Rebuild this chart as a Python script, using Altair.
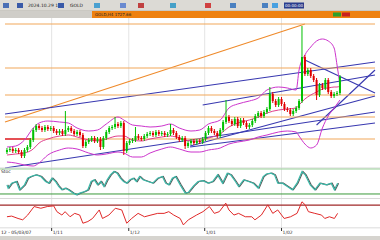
import altair as alt
import pandas as pd

# ---------------- data ----------------
# closing prices (arbitrary price units), one per candle
close = [20, 21, 19, 20, 18, 14, 20, 23, 30, 40,
         44, 42, 40, 43, 41, 42, 39, 37, 39, 36,
         40, 42, 39, 36, 38, 35, 24, 28, 30, 32,
         29, 31, 23, 32, 38, 42, 43, 46, 44, 47,
         19, 27, 29, 30, 34, 32, 31, 34, 36, 37,
         35, 38, 36, 37, 35, 36, 40, 37, 33, 30,
         32, 24, 27, 29, 27, 29, 28, 31, 37, 42,
         39, 37, 34, 40, 48, 53, 49, 46, 51, 44,
         50, 47, 43, 45, 49, 54, 57, 54, 58, 61,
         76, 69, 65, 71, 66, 61, 60, 56, 59, 62,
         69, 113, 96, 100, 94, 90, 75, 85, 82, 90,
         78, 74, 76, 77, 93]
first_open = 18
spike_high = {20: 59, 37: 53, 44: 43, 56: 46, 75: 70, 90: 83, 101: 144}
spike_low = {32: 20, 40: 15, 61: 21, 106: 70}

# Bollinger-style envelope
band_i = [0, 3, 6, 9, 11, 14, 18, 21, 24, 28, 31, 34, 38, 40, 43, 46, 49, 53, 56, 59,
          63, 66, 69, 73, 76, 79, 83, 86, 89, 93, 96, 99, 100, 102, 104, 106, 108, 110,
          112, 113, 114]
band_up = [23, 24, 30, 42, 47, 49, 48, 47, 42, 39, 40, 46, 53, 50, 45, 44, 43, 44, 46, 42,
           39, 40, 46, 50, 62, 66, 69, 72, 80, 83, 82, 80, 100, 115, 123, 129, 131, 129,
           122, 105, 85]
band_mid = [15, 16, 17, 21, 27, 31, 34, 35, 33, 30, 29, 31, 34, 34, 30, 29, 31, 33, 34, 32,
            29, 29, 32, 36, 43, 47, 50, 53, 57, 60, 61, 62, 65, 71, 75, 78, 81, 82,
            83, 83, 84]
band_lo = [8, 7, 5, 4, 7, 15, 20, 22, 21, 17, 15, 16, 18, 17, 13, 13, 17, 21, 23, 21,
           18, 18, 20, 22, 26, 28, 30, 33, 35, 38, 39, 38, 34, 26, 22, 25, 42, 54,
           62, 66, 70]

levels = [146, 102, 75, 53, 31]

trend = [
    ("diag", "orange", -0.67, 48, 102, 146),
    ("A", "blue", -0.67, 56, 126, 108),
    ("B", "blue", 67, 65, 126, 95),
    ("C", "blue", -0.67, 2, 126, 58),
    ("D", "blue", 62.7, 24, 126, 74),
    ("E", "blue", 102, 110, 126, 77),
    ("F", "blue", 106, 45, 126, 100),
    ("G", "blue", 62.7, 23, 126, 47),
]

sto_i = [0, 0.4, 1.6, 3.2, 4.3, 6.0, 7.1, 8.2, 9.9, 11.6, 13.2, 14.3, 15.4, 16.6, 17.7,
         18.8, 19.9, 21.0, 22.7, 23.8, 24.9, 26.6, 27.7, 28.8, 29.9, 31.0, 32.1, 33.2,
         34.3, 35.4, 36.6, 37.7, 38.8, 39.9, 41.0, 42.1, 43.2, 44.3, 45.4, 46.6, 48.2,
         49.9, 51.6, 53.2, 54.3, 55.4, 56.6, 57.7, 59.3, 61.0, 62.1, 63.8, 65.4, 67.1,
         68.8, 70.4, 72.1, 73.8, 75.4, 76.6, 78.2, 79.3, 81.0, 82.7, 84.3, 86.0, 87.7,
         88.8, 90.4, 91.6, 92.7, 94.3, 96.0, 97.7, 99.3, 101.0, 102.1, 103.8, 105.4,
         107.1, 109.3, 111.0, 112.1, 113.2]
sto_v = [42, 34, 46, 50, 30, 42, 58, 62, 66, 62, 50, 46, 58, 50, 38,
         30, 34, 30, 22, 18, 22, 26, 30, 50, 54, 42, 50, 38,
         54, 66, 74, 70, 58, 50, 46, 54, 58, 50, 62, 54, 50,
         46, 58, 62, 46, 42, 58, 62, 42, 22, 24, 39, 50, 52,
         46, 50, 66, 46, 70, 66, 50, 38, 54, 50, 46, 34, 62,
         68, 70, 66, 46, 46, 38, 30, 46, 74, 66, 42, 30,
         46, 42, 46, 30, 46]

rsi_i = [0, 1.6, 3.8, 5.4, 7.1, 9.3, 11.6, 13.8, 16.0, 17.1, 18.8, 19.9, 21.6, 23.2,
         24.9, 26.0, 27.7, 29.3, 31.6, 32.7, 34.9, 37.1, 39.3, 41.0, 42.7, 44.9, 47.1,
         49.3, 51.6, 53.8, 55.4, 57.1, 59.3, 60.4, 62.1, 64.9, 67.1, 69.3, 71.0, 72.7,
         74.9, 76.0, 77.7, 79.3, 81.6, 83.8, 84.9, 87.1, 89.3, 91.0, 92.7, 94.9, 97.1,
         99.3, 101.0, 102.1, 103.2, 105.4, 107.7, 108.8, 110.4, 112.1, 113.2]
rsi_v = [36, 38, 31, 27, 41, 66, 61, 66, 68, 51, 41, 51, 36, 46,
         41, 17, 22, 31, 56, 31, 41, 61, 56, 17, 31, 46, 36,
         41, 46, 46, 51, 41, 31, 12, 27, 41, 51, 66, 46, 51,
         76, 56, 41, 46, 36, 36, 27, 41, 71, 46, 56, 31, 36,
         46, 80, 71, 51, 46, 41, 31, 36, 31, 46]

month_i = [15.3, 41.7, 67.7, 94.0]
month_lab = ["1/11", "1/12", "1/01", "1/02"]

# ---------------- tables ----------------
rows = []
prev = first_open
for k, c in enumerate(close):
    o = prev
    rows.append(dict(i=k, o=o, c=c,
                     h=spike_high.get(k, max(o, c) + 2),
                     l=spike_low.get(k, min(o, c) - 2),
                     dir="up" if c >= o else "down"))
    prev = c
candles = pd.DataFrame(rows)

band_rows = []
for name, vals in (("upper", band_up), ("ma", band_mid), ("lower", band_lo)):
    band_rows += [dict(band=name, i=a, val=b) for a, b in zip(band_i, vals)]
bands = pd.DataFrame(band_rows)

seg_rows = []
for n, kind, i0, p0, i1, p1 in trend:
    seg_rows += [dict(id=n, kind=kind, i=i0, p=p0), dict(id=n, kind=kind, i=i1, p=p1)]
for k, lv in enumerate(levels):
    seg_rows += [dict(id=f"L{k}", kind="level", i=-0.67, p=lv),
                 dict(id=f"L{k}", kind="level", i=126, p=lv)]
segs = pd.DataFrame(seg_rows)
red_seg = pd.DataFrame([dict(i=-0.67, p=31), dict(i=8.3, p=31)])

sto = pd.DataFrame(dict(i=sto_i, v=sto_v))
rsi = pd.DataFrame(dict(i=rsi_i, v=rsi_v))
months = pd.DataFrame(dict(i=month_i, lab=month_lab))
one = pd.DataFrame([{"a": 1}])

# ---------------- scales ----------------
X = alt.Scale(domain=[-0.67, 126], range=[0, 380])
YM = alt.Scale(domain=[0, 152], range=[170, 18])
YS = alt.Scale(domain=[0, 100], range=[202.3, 160.7])
YR = alt.Scale(domain=[0, 100], range=[229, 195])
x_enc = alt.X("i:Q", scale=X, axis=None)

def box(x0, x1, y0, y1, color):
    return alt.Chart(one).mark_rect(color=color).encode(
        x=alt.value(x0), x2=alt.value(x1), y=alt.value(y0), y2=alt.value(y1))

def label(x, y, t, size=5, color="#222", align="left"):
    return alt.Chart(one).mark_text(text=t, fontSize=size, color=color, align=align,
                                    baseline="middle", font="DejaVu Sans").encode(
        x=alt.value(x), y=alt.value(y))

grid = alt.Chart(months).mark_rule(color="#e4e4e4", strokeWidth=1).encode(
    x=x_enc, y=alt.value(18), y2=alt.value(228))

lines = alt.Chart(segs).mark_line(strokeWidth=1.1, clip=True).encode(
    x=x_enc, y=alt.Y("p:Q", scale=YM, axis=None), detail="id:N",
    color=alt.Color("kind:N", scale=alt.Scale(domain=["level", "orange", "blue"],
                                              range=["#f2a85a", "#ef8a2a", "#3838b0"]), legend=None))
redline = alt.Chart(red_seg).mark_line(color="#e03040", strokeWidth=1.6).encode(
    x=x_enc, y=alt.Y("p:Q", scale=YM, axis=None))

bb = alt.Chart(bands).mark_line(strokeWidth=1, interpolate="monotone", clip=True).encode(
    x=x_enc, y=alt.Y("val:Q", scale=YM, axis=None), detail="band:N",
    color=alt.Color("band:N", scale=alt.Scale(domain=["upper", "ma", "lower"],
                                              range=["#cc33cc", "#e0408a", "#cc33cc"]), legend=None))

ccol = alt.Color("dir:N", scale=alt.Scale(domain=["up", "down"], range=["#00c000", "#e00000"]), legend=None)
wicks = alt.Chart(candles).mark_rule(strokeWidth=1).encode(
    x=x_enc, y=alt.Y("h:Q", scale=YM, axis=None), y2="l:Q", color=ccol)
bodies = alt.Chart(candles).mark_bar(size=2).encode(
    x=x_enc, y=alt.Y("o:Q", scale=YM, axis=None), y2="c:Q", color=ccol)

sto_levels = alt.Chart(pd.DataFrame(dict(v=[80, 20], lv=["hi", "lo"]))).mark_rule(strokeWidth=1).encode(
    y=alt.Y("v:Q", scale=YS, axis=None), x=alt.value(0), x2=alt.value(380),
    color=alt.Color("lv:N", scale=alt.Scale(domain=["hi", "lo"], range=["#9ad29a", "#3a9a3a"]), legend=None))
sto_sig = alt.Chart(sto).mark_line(color="#555555", strokeWidth=1.1, xOffset=1).encode(
    x=x_enc, y=alt.Y("v:Q", scale=YS, axis=None))
sto_main = alt.Chart(sto).mark_line(color="#3ab8a8", strokeWidth=1.2).encode(
    x=x_enc, y=alt.Y("v:Q", scale=YS, axis=None))

rsi_level = alt.Chart(pd.DataFrame(dict(v=[70]))).mark_rule(color="#a02828", strokeWidth=1.2).encode(
    y=alt.Y("v:Q", scale=YR, axis=None), x=alt.value(0), x2=alt.value(380))
rsi_line = alt.Chart(rsi).mark_line(color="#e02828", strokeWidth=1).encode(
    x=x_enc, y=alt.Y("v:Q", scale=YR, axis=None))

month_txt = alt.Chart(months).mark_text(fontSize=4.5, color="#333", align="left", baseline="middle",
                                        font="DejaVu Sans", dx=1).encode(
    x=x_enc, y=alt.value(233), text="lab:N")
month_tick = alt.Chart(months).mark_rule(color="#333").encode(x=x_enc, y=alt.value(228), y2=alt.value(231))

layers = [
    box(0, 380, 0, 240, "#ffffff"),
    grid,
    lines, redline, bb, wicks, bodies,
    box(0, 380, 167.5, 168.5, "#d8d8d8"),
    box(0, 380, 198, 199, "#d8d8d8"),
    sto_levels, sto_sig, sto_main,
    rsi_level, rsi_line,
    box(0, 380, 227.5, 228.3, "#cfcfcf"),
    month_tick, month_txt,
    label(1, 233, "12 - 05/03/07", size=4.5),
    label(1, 172, "Stoc", size=4.5),
    box(0, 380, 0, 11, "#dcdad5"),
    box(0, 380, 10.5, 11, "#b8b6b0"),
    box(0, 92, 11, 18, "#cfcdc8"),
    box(92, 380, 11, 18, "#ee8110"),
    label(28, 5.5, "2024.10.29 1:2", size=4.5),
    label(70, 5.5, "GOLD", size=4.5),
    box(284, 304, 2.5, 8.5, "#2a3c8c"),
    label(294, 5.5, "00:00:00", size=4, color="#ffffff", align="center"),
    box(3, 9, 3, 8, "#4a6fb5"), box(17, 23, 3, 8, "#3a5aa8"), box(58, 64, 3, 8, "#3a5aa8"),
    box(94, 100, 3, 8, "#4aa0d0"), box(120, 126, 3, 8, "#6a8ad0"), box(138, 144, 3, 8, "#c04040"),
    box(170, 176, 3, 8, "#45a0c8"), box(205, 211, 3, 8, "#d04040"), box(230, 236, 3, 8, "#4a80c0"),
    box(262, 268, 3, 8, "#4a80c0"), box(272, 278, 3, 8, "#48a0e0"),
    box(333, 341, 12.5, 16.5, "#2ca02c"), box(342, 350, 12.5, 16.5, "#c82020"),
    label(95, 14.5, "GOLD,H4 1727.66", size=4, color="#222"),
    box(0, 380, 236, 240, "#d6d4cf"),
]

chart = alt.layer(*layers).resolve_scale(y="independent", color="independent").properties(
    width=380, height=240, padding=0, autosize=alt.AutoSizeParams(type="none")
).configure_view(stroke=None)

chart.save("out.html", embed_options={"renderer": "svg", "actions": False})
